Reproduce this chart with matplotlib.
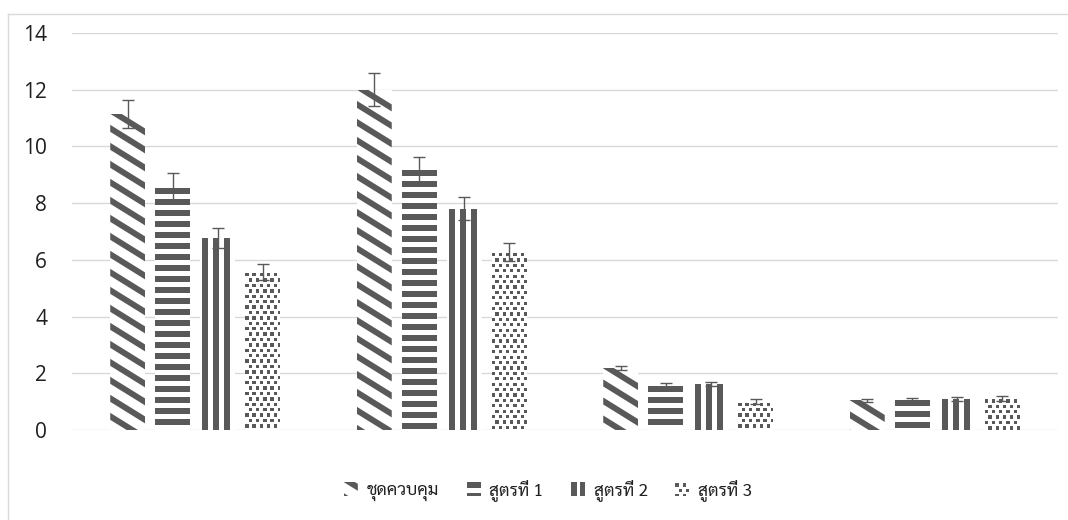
import numpy as np
import matplotlib
matplotlib.use("Agg")
import matplotlib.pyplot as plt
from matplotlib import font_manager
from matplotlib.ft2font import FT2Font
from matplotlib.collections import PolyCollection
from matplotlib.transforms import IdentityTransform
from matplotlib.patches import Rectangle
from matplotlib.legend_handler import HandlerBase
from matplotlib.lines import Line2D

# ---- data -------------------------------------------------------------
series_names = ["ชุดควบคุม", "สูตรที่ 1", "สูตรที่ 2", "สูตรที่ 3"]
n_groups = 4

control = [11.15, 12.0, 2.17, 1.05]
control_err = [0.5, 0.58, 0.07, 0.05]
formula1 = [8.55, 9.17, 1.55, 1.07]
formula1_err = [0.5, 0.45, 0.12, 0.05]
formula2 = [6.77, 7.8, 1.62, 1.08]
formula2_err = [0.35, 0.4, 0.06, 0.07]
formula3 = [5.57, 6.28, 1.0, 1.12]
formula3_err = [0.28, 0.32, 0.09, 0.08]

y_ticks = [0, 2, 4, 6, 8, 10, 12, 14]

# ---- style ------------------------------------------------------------
DPI = 100
INK = "#595959"
GRID = "#d9d9d9"
TEXT = "#1f1f1f"


def thai_family():
    sample = [ord(c) for c in "ชุดควบคุมสูตรที่"]
    found = []
    for entry in font_manager.fontManager.ttflist:
        try:
            cmap = FT2Font(entry.fname).get_charmap()
        except Exception:
            continue
        if all(c in cmap for c in sample):
            found.append(entry.name)
    if not found:
        return None
    for key in ("Angsana", "Sarabun", "Norasi", "Serif", "Tlwg", "Loma", "Garuda"):
        for name in found:
            if key.lower() in name.lower():
                return name
    return found[0]


thai = thai_family()
legend_family = [thai, "DejaVu Sans"] if thai else ["DejaVu Sans"]


# ---- fill patterns (sizes in pixels, scaled by s) ----------------------
def pat_diagonal(x0, y0, x1, y1, s=1.0):
    period, thick, slope = 18 * s, 7 * s, 0.62
    polys = []
    c = y1 + slope * x0 + thick
    c_min = y0 + slope * x1 - thick - period
    while c > c_min:
        polys.append([(x0, c - slope * x0), (x1, c - slope * x1),
                      (x1, c - slope * x1 - thick), (x0, c - slope * x0 - thick)])
        c -= period
    return polys


def pat_horizontal(x0, y0, x1, y1, s=1.0):
    period, thick = 11 * s, 6 * s
    polys = []
    top = y1
    while top > y0:
        bot = max(top - thick, y0)
        polys.append([(x0, bot), (x1, bot), (x1, top), (x0, top)])
        top -= period
    return polys


def pat_vertical(x0, y0, x1, y1, s=1.0, offset=2.0):
    period, thick, off = 11 * s, 6 * s, offset * s
    polys = []
    left = x0 + off
    while left < x1:
        right = min(left + thick, x1)
        polys.append([(left, y0), (right, y0), (right, y1), (left, y1)])
        left += period
    return polys


def pat_vertical_key(x0, y0, x1, y1, s=1.0):
    # legend key: two solid bars
    w = x1 - x0
    return [[(x0, y0), (x0 + 0.42 * w, y0), (x0 + 0.42 * w, y1), (x0, y1)],
            [(x0 + 0.62 * w, y0), (x1, y0), (x1, y1), (x0 + 0.62 * w, y1)]]


def pat_dots(x0, y0, x1, y1, s=1.0):
    px, py, q = 7.2 * s, 5.4 * s, 3.3 * s
    polys = []
    row = 0
    top = y1 - 1 * s
    while top > y0 - q:
        shift = (px / 2) if row % 2 else 0.0
        left = x0 + shift - px
        while left < x1:
            polys.append([(left, top - q), (left + q, top - q), (left + q, top), (left, top)])
            left += px
        top -= py
        row += 1
    return polys


painters = [pat_diagonal, pat_horizontal, pat_vertical, pat_dots]
key_painters = [pat_diagonal, pat_horizontal, pat_vertical_key, pat_dots]
values = [control, formula1, formula2, formula3]
errors = [control_err, formula1_err, formula2_err, formula3_err]


class PatternHandler(HandlerBase):
    def __init__(self, painter):
        super().__init__()
        self.painter = painter

    def create_artists(self, legend, orig_handle, xdescent, ydescent,
                       width, height, fontsize, trans):
        x0, y0 = -xdescent, -ydescent
        box = Rectangle((x0, y0), width, height, facecolor="white",
                        edgecolor="none", transform=trans)
        polys = self.painter(x0, y0, x0 + width, y0 + height, s=72.0 / DPI)
        coll = PolyCollection(polys, facecolors=INK, edgecolors="none",
                              transform=trans)
        coll.set_clip_path(box)
        return [box, coll]


# ---- figure -----------------------------------------------------------
fig = plt.figure(figsize=(10.68, 5.20), dpi=DPI)
fig.patch.set_facecolor("white")
ax = fig.add_axes([72 / 1068, 90 / 520, 986 / 1068, 397 / 520])
ax.set_xlim(0, n_groups)
ax.set_ylim(0, 14)

pitch, width = 0.1826, 0.142
centers = np.arange(n_groups) + 0.5
containers = []
for k, (vals, errs, painter) in enumerate(zip(values, errors, painters)):
    xs = centers + (k - 1.5) * pitch
    bars = ax.bar(xs, vals, width=width, color="white", edgecolor="none",
                  zorder=2, label=series_names[k])
    containers.append(bars)
    for rect in bars:
        (bx0, by0) = ax.transData.transform((rect.get_x(), rect.get_y()))
        (bx1, by1) = ax.transData.transform((rect.get_x() + rect.get_width(),
                                             rect.get_y() + rect.get_height()))
        coll = PolyCollection(painter(bx0, by0, bx1, by1), facecolors=INK,
                              edgecolors="none", transform=IdentityTransform(),
                              zorder=2.5)
        ax.add_collection(coll, autolim=False)
        coll.set_clip_path(rect)
    ax.errorbar(xs, vals, yerr=errs, fmt="none", ecolor=INK, elinewidth=1.0,
                capsize=4, capthick=1.0, zorder=3)

ax.set_yticks(y_ticks)
ax.set_yticklabels([str(t) for t in y_ticks])
ax.set_xticks([])
ax.yaxis.grid(True, color=GRID, linewidth=1.0)
ax.set_axisbelow(True)
for sp in ax.spines.values():
    sp.set_visible(False)
ax.tick_params(axis="y", length=0, pad=18, labelsize=15, labelcolor=TEXT)
for lab in ax.get_yticklabels():
    lab.set_fontfamily(["Open Sans", "DejaVu Sans"])

leg = fig.legend(
    handles=containers, labels=series_names,
    handler_map={c: PatternHandler(p) for c, p in zip(containers, key_painters)},
    loc="center", bbox_to_anchor=(548 / 1068, 30 / 520), ncol=4,
    frameon=False, prop={"family": legend_family, "size": 12.5},
    handlelength=0.8, handleheight=0.8, handletextpad=0.5,
    columnspacing=1.6,
)
for t in leg.get_texts():
    t.set_color(TEXT)

# chart area border
fig.add_artist(Line2D([7.5 / 1068, 7.5 / 1068], [0, (520 - 13.5) / 520],
                      transform=fig.transFigure, color=GRID, linewidth=1.0))
fig.add_artist(Line2D([7.5 / 1068, 1.0], [(520 - 13.5) / 520, (520 - 13.5) / 520],
                      transform=fig.transFigure, color=GRID, linewidth=1.0))

fig.savefig("out.png", dpi=DPI, facecolor="white")
